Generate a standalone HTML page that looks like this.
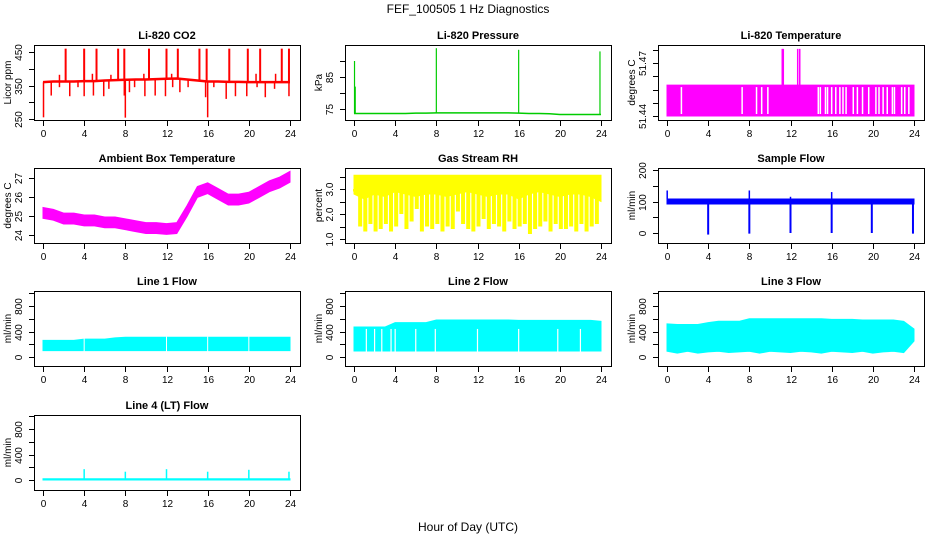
<!DOCTYPE html>
<html><head><meta charset="utf-8"><style>
html,body{margin:0;padding:0;background:#fff;}
svg{display:block;font-family:"Liberation Sans",Arial,sans-serif;}
</style></head><body>
<svg id="c" width="936" height="540" viewBox="0 0 936 540">
<text x="468" y="13" text-anchor="middle" font-size="12">FEF_100505  1 Hz Diagnostics</text>
<text x="468" y="531" text-anchor="middle" font-size="12">Hour of Day (UTC)</text>
</svg>
<script>
// ---- data ----
const xTicks=[0,4,8,12,16,20,24];
const hours=[0,1,2,3,4,5,6,7,8,9,10,11,12,13,14,15,16,17,18,19,20,21,22,23,24];
const co2Base=[360,362,362,362,363,363,365,366,367,368,368,369,370,371,368,365,362,362,361,361,360,360,360,360,360];
const co2UpHours=[2.2,4.0,5.2,7.3,7.9,10.3,12.0,13.1,15.2,15.9,18.1,19.9,21.1,23.2,23.9];
const co2UpValue=460;
const co2DownHours=[0.05,0.8,1.6,2.6,3.4,4.0,4.9,5.9,6.4,7.9,8.0,8.4,8.9,9.9,10.9,11.9,12.6,13.3,14.1,15.8,16.0,16.6,17.8,18.7,19.8,20.8,21.6,22.5,23.9];
const co2DownValues=[255,320,345,318,345,318,320,318,340,320,254,330,345,318,320,318,345,330,345,315,255,345,310,318,318,345,315,340,318];
const co2BumpHours=[1.6,4.8,6.6,9.8,12.5,20.7,22.6];
const co2BumpValues=[382,385,382,385,385,385,385];
const presBase=[73.6,73.6,73.6,73.6,73.6,73.6,73.7,73.7,73.8,73.8,73.8,73.8,73.8,73.8,73.8,73.8,73.7,73.6,73.6,73.5,73.3,73.3,73.3,73.3,73.3];
const presSpikeHours=[0.05,0.12,8.0,16.0,23.9];
const presSpikeValues=[90,82,94,93.5,93];
const tempLow=51.44, tempHigh=51.4575;
const tempGapHours=[1.4,7.3,8.7,9.2,9.8,14.7,14.9,15.4,15.6,16.0,16.4,16.8,17.1,17.4,18.1,18.5,19.0,19.6,20.3,20.6,21.0,21.4,21.9,22.1,22.8,23.1,23.5];
const tempSpikeHours=[11.2,11.3,12.7,12.9];
const tempSpikeValue=51.478;
const ambMid=[25.2,25.1,24.9,24.9,24.8,24.8,24.7,24.7,24.6,24.5,24.4,24.4,24.35,24.4,25.3,26.3,26.5,26.2,25.9,25.9,26.0,26.3,26.6,26.8,27.1];
const rhHigh=[3.55,3.55,3.55,3.55,3.55,3.55,3.55,3.55,3.55,3.55,3.55,3.55,3.55,3.55,3.55,3.55,3.55,3.55,3.55,3.55,3.55,3.55,3.55,3.55,3.55];
const rhDense=[2.8,2.6,2.8,2.7,2.9,2.8,2.7,2.8,2.8,2.7,2.8,2.9,2.8,2.7,2.8,2.8,2.6,2.8,2.9,2.8,2.7,2.8,2.8,2.7,2.5];
const rhLows=[2.9,1.5,1.3,1.6,1.3,1.4,1.6,1.3,1.5,2.0,1.4,1.7,2.2,1.3,1.5,1.4,1.6,1.3,1.5,1.4,2.1,1.6,1.4,1.3,1.5,1.8,1.4,1.6,1.5,1.3,1.7,1.4,1.5,1.6,1.2,1.4,1.5,1.7,1.3,1.6,1.4,1.4,1.5,1.3,1.6,1.3,1.5,1.6];
const sfLow=92, sfHigh=108;
const sfDipHours=[4.0,8.0,12.0,16.0,19.9,23.9];
const sfDipValues=[-5,-2,0,0,0,-2];
const sfSpikeHours=[0.02,8.0,12.0,16.0];
const sfSpikeValues=[135,135,115,130];
const l1High=[260,260,260,260,280,280,280,300,310,310,310,310,310,310,310,310,310,310,310,310,310,310,310,310,310];
const l1Low=100;
const l1GapHours=[4.0,12.0,16.0,20.0];
const l2High=[470,470,470,470,540,540,540,540,580,580,580,580,580,580,580,580,575,575,575,575,575,575,575,575,560];
const l2Low=95;
const l2GapHours=[1.2,2.0,2.7,3.6,4.0,6.0,7.9,12.0,16.0,19.8,22.0];
const l3High=[520,510,510,510,540,560,560,560,600,600,600,600,600,600,600,600,590,590,590,580,580,580,580,560,440];
const l3Low=[90,60,90,60,80,90,70,80,90,60,90,80,70,90,80,60,90,80,70,90,60,80,90,70,250];
const l4High=20;
const l4SpikeHours=[4.0,8.0,12.0,16.0,20.0,23.9];
const l4SpikeValues=[170,130,170,130,160,130];

// ---- layout ----
const svg=document.getElementById('c');
const NS='http://www.w3.org/2000/svg';
const colX=[34,345,658], rowY=[45,168,291,415], PW=266, PH=75;
function mk(tag,attrs,name){
  const el=document.createElementNS(NS,tag);
  for(const k in attrs) el.setAttribute(k,attrs[k]);
  
  
  svg.appendChild(el);return el;
}
function makePanel(o){
  const x0=colX[o.col], y0=rowY[o.row];
  o.xs=h=>x0+9+h*247/24;
  o.ys=v=>o.p1+(v-o.v1)*(o.p2-o.p1)/(o.v2-o.v1);
  o.x0=x0;o.y0=y0;
  const clipId='clip-'+o.name;
  const cp=document.createElementNS(NS,'clipPath');cp.setAttribute('id',clipId);
  const cr=document.createElementNS(NS,'rect');cr.setAttribute('x',x0);cr.setAttribute('y',y0);cr.setAttribute('width',PW);cr.setAttribute('height',PH);
  cp.appendChild(cr);svg.appendChild(cp);
  const g=document.createElementNS(NS,'g');g.setAttribute('clip-path','url(#'+clipId+')');
  
  
  svg.appendChild(g);o.g=g;
  return o;
}
function axes(o){
  const x0=o.x0,y0=o.y0;
  mk('rect',{x:x0+0.5,y:y0+0.5,width:PW,height:PH,fill:'none',stroke:'#000','stroke-width':1},o.name+'-frame');
  mk('text',{x:x0+PW/2,y:y0-6,'text-anchor':'middle','font-size':11,'font-weight':'bold'},o.name+'-title').textContent=o.title;
  const xl=mk('line',{x1:o.xs(0),x2:o.xs(24),y1:y0+PH+0.5,y2:y0+PH+0.5,stroke:'#000'},o.name+'-x-axis');
  xTicks.forEach(t=>{
    const x=Math.round(o.xs(t))+0.5;
    mk('line',{x1:x,x2:x,y1:y0+PH,y2:y0+PH+6,stroke:'#000'},o.name+'-x-tick');
    mk('text',{x:x,y:y0+PH+17,'text-anchor':'middle','font-size':10},o.name+'-x-tick-label').textContent=t;
  });
  const t0=o.ys(o.ticks[0]),t1=o.ys(o.ticks[o.ticks.length-1]);
  mk('line',{x1:x0+0.5,x2:x0+0.5,y1:t0,y2:t1,stroke:'#000'},o.name+'-y-axis');
  o.ticks.forEach((t,i)=>{
    const y=Math.round(o.ys(t))+0.5;
    mk('line',{x1:x0-5,x2:x0,y1:y,y2:y,stroke:'#000'},o.name+'-y-tick');
    if(o.labels[i]!==''){
      const tx=mk('text',{x:0,y:0,'text-anchor':'middle','font-size':10,transform:'translate('+(x0-12)+','+y+') rotate(-90)'},o.name+'-y-tick-label');
      tx.textContent=o.labels[i];
    }
  });
  mk('text',{x:0,y:0,'text-anchor':'middle','font-size':10,transform:'translate('+(x0-23)+','+(y0+PH/2)+') rotate(-90)'},o.name+'-y-axis-title').textContent=o.ytitle;
}
function add(o,tag,attrs,name){
  const el=document.createElementNS(NS,tag);
  for(const k in attrs) el.setAttribute(k,attrs[k]);
  
  
  o.g.appendChild(el);return el;
}
function vline(o,h,a,b,color,w,name){
  add(o,'line',{x1:o.xs(h),x2:o.xs(h),y1:o.ys(a),y2:o.ys(b),stroke:color,'stroke-width':w},name);
}
function band(o,hs,lo,hi,color,name){
  const pts=[];
  hs.forEach((h,i)=>pts.push(o.xs(h)+','+o.ys(Array.isArray(hi)?hi[i]:hi)));
  for(let i=hs.length-1;i>=0;i--) pts.push(o.xs(hs[i])+','+o.ys(Array.isArray(lo)?lo[i]:lo));
  add(o,'polygon',{points:pts.join(' '),fill:color,stroke:color,'stroke-width':1},name);
}
function polyline(o,hs,vals,color,w,name){
  add(o,'polyline',{points:hs.map((h,i)=>o.xs(h)+','+o.ys(vals[i])).join(' '),fill:'none',stroke:color,'stroke-width':w},name);
}

// CO2
const pCO2=makePanel({name:'co2',title:'Li-820 CO2',ytitle:'Licor ppm',col:0,row:0,v1:450,p1:52,v2:250,p2:119,ticks:[250,300,350,400,450],labels:['250','','350','','450']});
co2DownHours.forEach((h,i)=>vline(pCO2,h,co2Base[Math.round(h)],co2DownValues[i],'#ff0000',1.5,'co2-dip'));
co2BumpHours.forEach((h,i)=>vline(pCO2,h,co2Base[Math.round(h)],co2BumpValues[i],'#ff0000',1.5,'co2-bump'));
co2UpHours.forEach(h=>vline(pCO2,h,co2Base[Math.round(h)],co2UpValue,'#ff0000',2,'co2-spike'));
polyline(pCO2,hours,co2Base,'#ff0000',2.5,'co2-line');
axes(pCO2);

// Pressure
const pP=makePanel({name:'pressure',title:'Li-820 Pressure',ytitle:'kPa',col:1,row:0,v1:75,p1:109,v2:85,p2:77,ticks:[75,80,85,90],labels:['75','','85','']});
polyline(pP,hours,presBase,'#00cc00',1.5,'pressure-line');
presSpikeHours.forEach((h,i)=>vline(pP,h,presBase[Math.round(h)],presSpikeValues[i],'#00cc00',1.2,'pressure-spike'));
axes(pP);

// Li-820 Temperature
const pT=makePanel({name:'li820-temp',title:'Li-820 Temperature',ytitle:'degrees C',col:2,row:0,v1:51.44,p1:116,v2:51.47,p2:63,ticks:[51.44,51.4475,51.455,51.4625,51.47,51.4775],labels:['51.44','','','','51.47','']});
band(pT,[0,24],tempLow,tempHigh,'#ff00ff','li820-temp-band');
tempGapHours.forEach(h=>add(pT,'line',{x1:pT.xs(h),x2:pT.xs(h),y1:pT.ys(tempHigh)+2,y2:pT.ys(tempLow)-2,stroke:'#fff','stroke-width':1.5},'li820-temp-gap'));
tempSpikeHours.forEach(h=>vline(pT,h,tempHigh,tempSpikeValue,'#ff00ff',1.5,'li820-temp-spike'));
axes(pT);

// Ambient
const pA=makePanel({name:'ambient-temp',title:'Ambient Box Temperature',ytitle:'degrees C',col:0,row:1,v1:24,p1:235,v2:27,p2:178,ticks:[24,25,26,27],labels:['24','25','26','27']});
band(pA,hours,ambMid.map(v=>v-0.32),ambMid.map(v=>v+0.25),'#ff00ff','ambient-temp-band');
axes(pA);

// RH
const pR=makePanel({name:'gas-rh',title:'Gas Stream RH',ytitle:'percent',col:1,row:1,v1:1,p1:239,v2:3,p2:189,ticks:[1,1.5,2,2.5,3,3.5],labels:['1.0','','2.0','','3.0','']});
band(pR,hours,rhDense,rhHigh,'#ffff00','gas-rh-band');
rhLows.forEach((v,i)=>add(pR,'rect',{x:pR.xs(i*0.5)-1,y:pR.ys(3),width:4,height:pR.ys(v)-pR.ys(3),fill:'#ffff00'},'gas-rh-excursion'));
axes(pR);

// Sample flow
const pS=makePanel({name:'sample-flow',title:'Sample Flow',ytitle:'ml/min',col:2,row:1,v1:0,p1:233,v2:200,p2:170,ticks:[0,50,100,150,200],labels:['0','','100','','200']});
band(pS,[0,24],sfLow,sfHigh,'#0000ff','sample-flow-band');
sfDipHours.forEach((h,i)=>vline(pS,h,sfLow,sfDipValues[i],'#0000ff',2,'sample-flow-dip'));
sfSpikeHours.forEach((h,i)=>vline(pS,h,sfHigh,sfSpikeValues[i],'#0000ff',1.5,'sample-flow-spike'));
axes(pS);

// Line flows
const flowTicks=[0,200,400,600,800,1000], flowLabels=['0','','400','','800',''];
const pL1=makePanel({name:'line1-flow',title:'Line 1 Flow',ytitle:'ml/min',col:0,row:2,v1:0,p1:357,v2:800,p2:306,ticks:flowTicks,labels:flowLabels});
band(pL1,hours,l1Low,l1High,'#00ffff','line1-flow-band');
l1GapHours.forEach(h=>add(pL1,'line',{x1:pL1.xs(h),x2:pL1.xs(h),y1:pL1.ys(320),y2:pL1.ys(80),stroke:'#fff','stroke-width':1},'line1-flow-gap'));
axes(pL1);
const pL2=makePanel({name:'line2-flow',title:'Line 2 Flow',ytitle:'ml/min',col:1,row:2,v1:0,p1:357,v2:800,p2:306,ticks:flowTicks,labels:flowLabels});
band(pL2,hours,l2Low,l2High,'#00ffff','line2-flow-band');
l2GapHours.forEach(h=>add(pL2,'line',{x1:pL2.xs(h),x2:pL2.xs(h),y1:pL2.ys(440),y2:pL2.ys(80),stroke:'#fff','stroke-width':1.2},'line2-flow-gap'));
axes(pL2);
const pL3=makePanel({name:'line3-flow',title:'Line 3 Flow',ytitle:'ml/min',col:2,row:2,v1:0,p1:357,v2:800,p2:306,ticks:flowTicks,labels:flowLabels});
band(pL3,hours,l3Low,l3High,'#00ffff','line3-flow-band');
axes(pL3);
const pL4=makePanel({name:'line4-flow',title:'Line 4 (LT) Flow',ytitle:'ml/min',col:0,row:3,v1:0,p1:480,v2:800,p2:429,ticks:flowTicks,labels:flowLabels});
band(pL4,[0,24],0,l4High,'#00ffff','line4-flow-band');
l4SpikeHours.forEach((h,i)=>vline(pL4,h,l4High,l4SpikeValues[i],'#00ffff',1.5,'line4-flow-spike'));
axes(pL4);
</script>
</body></html>
